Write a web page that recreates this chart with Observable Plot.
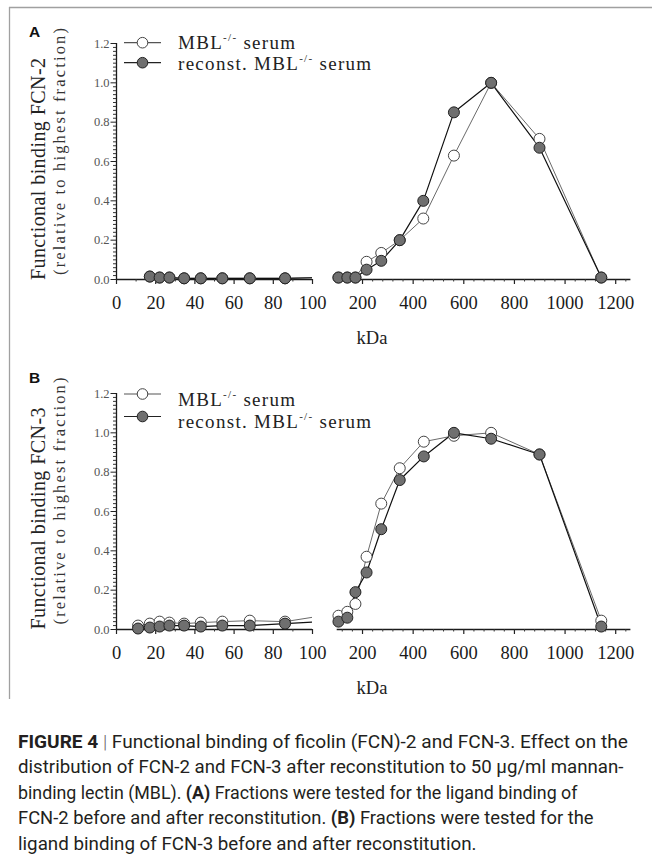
<!DOCTYPE html>
<html><head><meta charset="utf-8">
<script src="https://cdn.jsdelivr.net/npm/d3@7"></script>
<script src="https://cdn.jsdelivr.net/npm/@observablehq/plot@0.6"></script>
<style>
html,body{margin:0;padding:0;background:#fff;}
#root{position:relative;width:652px;height:856px;overflow:hidden;background:#fff;}
#root svg{position:absolute;left:0;}
</style></head><body><div id="root"></div>
<script>
// ---- data ----
const kdaA   = [17, 22, 27, 34.5, 43, 54, 68, 86, 105, 140, 172, 216, 274, 347, 440, 561, 708, 899, 1143];
const mblA   = [0.015, 0.01, 0.01, 0.006, 0.006, 0.006, 0.006, 0.006, 0.01, 0.01, 0.01, 0.09, 0.135, 0.20, 0.31, 0.63, 1.0, 0.715, 0.01];
const reconA = [0.015, 0.01, 0.01, 0.006, 0.006, 0.006, 0.006, 0.006, 0.01, 0.01, 0.01, 0.05, 0.095, 0.20, 0.40, 0.85, 1.0, 0.67, 0.01];

const kdaB   = [11, 17, 22, 27, 34.5, 43, 54, 68, 86, 105, 140, 172, 216, 274, 347, 442, 561, 708, 899, 1143];
const mblB   = [0.02, 0.03, 0.04, 0.035, 0.03, 0.035, 0.04, 0.045, 0.04, 0.07, 0.09, 0.13, 0.37, 0.64, 0.82, 0.955, 0.985, 1.0, 0.89, 0.045];
const reconB = [0.005, 0.01, 0.015, 0.02, 0.02, 0.015, 0.02, 0.02, 0.03, 0.04, 0.06, 0.19, 0.29, 0.51, 0.76, 0.88, 1.0, 0.97, 0.89, 0.015];

const xTicksLeft  = [0, 20, 40, 60, 80, 100];
const xTicksRight = [200, 400, 600, 800, 1000, 1200];
const yTicks = [0, 0.2, 0.4, 0.6, 0.8, 1.0, 1.2];
const panelLabels = ["A", "B"];
const yTitles = ["Functional binding FCN-2", "Functional binding FCN-3"];
const yTitle2 = "(relative to highest fraction)";
const xTitle = "kDa";
const seriesNames = ["mbl", "recon"];
const legendLabels = [["MBL", "-/-", " serum"], ["reconst. MBL", "-/-", " serum"]];

// ---- layout ----
const W = 652, PH = 330, MT = 43, MB = 51;
const serif = "'Liberation Serif', 'Times New Roman', serif";
const minorY = d3.range(0, 61).map(i => +(i * 0.02).toFixed(2)).filter(v => Math.round(v * 100) % 20 !== 0);
const minorXL = d3.range(10, 100, 10).filter(v => v % 20 !== 0);
const minorXR = d3.range(120, 1260, 40).filter(v => v % 200 !== 0);

const root = document.getElementById("root");

function rowsOf(kda, mbl, recon) {
  const r = [];
  kda.forEach((k, i) => { r.push({kda: k, value: mbl[i], s: "mbl"}); });
  kda.forEach((k, i) => { r.push({kda: k, value: recon[i], s: "recon"}); });
  return r;
}

function segment(rows, top, cfg) {
  const {domain, mL, mR, major, minor, yaxis} = cfg;
  const inDom = d => d.kda >= domain[0] && d.kda <= domain[1];
  const marks = [
    Plot.ruleY([0], {stroke: "#1a1a1a", strokeWidth: 1.3}),
    Plot.axisX(minor, {anchor: "bottom", tickSize: 2.5, fill: "none", stroke: "#333", label: null}),
    Plot.axisX(major, {anchor: "bottom", tickSize: 5, fill: "none", stroke: "#222", strokeWidth: 1.2, label: null}),
    Plot.axisX(major, {anchor: "bottom", tickSize: 0, tickPadding: 16, fontSize: 18.5, fill: "#1a1a1a", label: null, tickFormat: d => String(d)}),
  ];
  if (yaxis) {
    marks.push(
      Plot.ruleX([domain[0]], {stroke: "#1a1a1a", strokeWidth: 1.3}),
      Plot.axisY(minorY, {anchor: "left", tickSize: 3, fill: "none", stroke: "#333", label: null}),
      Plot.axisY(yTicks, {anchor: "left", tickSize: 5.5, fill: "none", stroke: "#222", label: null}),
      Plot.axisY(yTicks, {anchor: "left", tickSize: 0, tickPadding: 7, fontSize: 12.5, fill: "#555", label: null, tickFormat: d => d.toFixed(1)})
    );
  }
  marks.push(
    Plot.line(rows.filter(d => d.s === "mbl"), {x: "kda", y: "value", stroke: "#6a6a6a", strokeWidth: 1, clip: true}),
    Plot.line(rows.filter(d => d.s === "recon"), {x: "kda", y: "value", stroke: "#111", strokeWidth: 1.2, clip: true}),
    Plot.dot(rows.filter(d => d.s === "mbl" && inDom(d)), {x: "kda", y: "value", r: 5.5, fill: "white", stroke: "#444", strokeWidth: 1}),
    Plot.dot(rows.filter(d => d.s === "recon" && inDom(d)), {x: "kda", y: "value", r: 5.5, fill: "#6f6f6f", stroke: "#222", strokeWidth: 1})
  );
  const svg = Plot.plot({
    width: W, height: PH,
    marginTop: MT, marginBottom: MB, marginLeft: mL, marginRight: mR,
    x: {domain, axis: null},
    y: {domain: [0, 1.2], axis: null},
    style: {fontFamily: serif, background: "transparent", overflow: "visible", color: "#222"},
    marks
  });
  svg.style.top = top + "px";
  root.appendChild(svg);
}

const panels = [
  {top: 0, rows: rowsOf(kdaA, mblA, reconA), leg: [42.7, 62.7], legText: [49, 69.5], lab: 37.3},
  {top: 349.5, rows: rowsOf(kdaB, mblB, reconB), leg: [394, 416.5], legText: [405.5, 428], lab: 383.3}
];

panels.forEach(p => {
  segment(p.rows, p.top, {domain: [0, 100], mL: 116, mR: W - 312, major: xTicksLeft, minor: minorXL, yaxis: true});
  segment(p.rows, p.top, {domain: [100, 1260], mL: 336.7, mR: W - 630.4, major: xTicksRight, minor: minorXR, yaxis: false});
});

// ---- overlay: frame, labels, legend, caption ----
const ov = d3.select(root).append("svg")
  .attr("width", W).attr("height", 856)
  .style("top", "0px").style("pointer-events", "none");

ov.append("line").attr("x1", 9).attr("x2", W + 2).attr("y1", 7.5).attr("y2", 7.5).attr("stroke", "#a0a0a0").attr("stroke-width", 1.3);
ov.append("line").attr("x1", 9.5).attr("x2", 9.5).attr("y1", 7).attr("y2", 699).attr("stroke", "#a0a0a0").attr("stroke-width", 1.3);

panels.forEach((p, i) => {
  const t = p.top;
  ov.append("text").attr("x", 29).attr("y", p.lab).text(panelLabels[i])
    .attr("font-family", "'Liberation Sans', Arial, sans-serif").attr("font-weight", 700).attr("font-size", 15.5).attr("fill", "#111");
  ov.append("text").attr("transform", `translate(45,${t + 280}) rotate(-90)`).text(yTitles[i])
    .attr("font-family", serif).attr("font-size", 20).attr("fill", "#222")
    .attr("textLength", 222).attr("lengthAdjust", "spacing");
  ov.append("text").attr("transform", `translate(65,${t + 275}) rotate(-90)`).text(yTitle2)
    .attr("font-family", serif).attr("font-size", 16.5).attr("fill", "#333")
    .attr("textLength", 247).attr("lengthAdjust", "spacing");
  ov.append("text").attr("x", 372).attr("y", t + 344).attr("text-anchor", "middle").text(xTitle)
    .attr("font-family", serif).attr("font-size", 18.5).attr("fill", "#222");
  // legend
  seriesNames.forEach((s, j) => {
    const y = p.leg[j];
    ov.append("line").attr("x1", 124).attr("x2", 161).attr("y1", y).attr("y2", y)
      .attr("stroke", s === "mbl" ? "#555" : "#222").attr("stroke-width", 1.2);
    ov.append("circle").attr("cx", 142.5).attr("cy", y).attr("r", 5.3)
      .attr("fill", s === "mbl" ? "white" : "#6f6f6f").attr("stroke", s === "mbl" ? "#444" : "#222");
    const tx = ov.append("text").attr("x", 178).attr("y", p.legText[j])
      .attr("font-family", serif).attr("font-size", 19).attr("fill", "#222")
      .style("letter-spacing", "1.3px").style("white-space", "pre");
    const L = legendLabels[j];
    tx.append("tspan").text(L[0]);
    tx.append("tspan").text(L[1]).attr("font-size", 11).attr("dy", -8);
    tx.append("tspan").text(L[2]).attr("dy", 8);
  });
});

// caption
const capLines = [
  [["FIGURE 4", 1], [" | ", 2], ["Functional binding of ficolin (FCN)-2 and FCN-3. Effect on the", 0]],
  [["distribution of FCN-2 and FCN-3 after reconstitution to 50 µg/ml mannan-", 0]],
  [["binding lectin (MBL). ", 0], ["(A)", 1], [" Fractions were tested for the ligand binding of", 0]],
  [["FCN-2 before and after reconstitution. ", 0], ["(B)", 1], [" Fractions were tested for the", 0]],
  [["ligand binding of FCN-3 before and after reconstitution.", 0]]
];
const capY = [747.5, 773, 798.5, 824, 849.5];
const capW = [610, 606, 560, 576, 459];
const capNodes = capLines.map((parts, i) => {
  const g = ov.append("text").attr("y", 0).attr("x", 0)
    .attr("font-family", "Roboto, 'Liberation Sans', sans-serif").attr("font-size", 18).attr("fill", "#231f20")
    .style("white-space", "pre");
  parts.forEach(([txt, k]) => {
    const ts = g.append("tspan").text(txt);
    if (k === 1) ts.attr("font-weight", 700);
    if (k === 2) ts.attr("fill", "#666").attr("font-weight", 300);
  });
  return g;
});
capNodes.forEach((g, i) => {
  const w = g.node().getComputedTextLength();
  g.attr("transform", `translate(18,${capY[i]}) scale(${capW[i] / w},1)`);
});
</script></body></html>
